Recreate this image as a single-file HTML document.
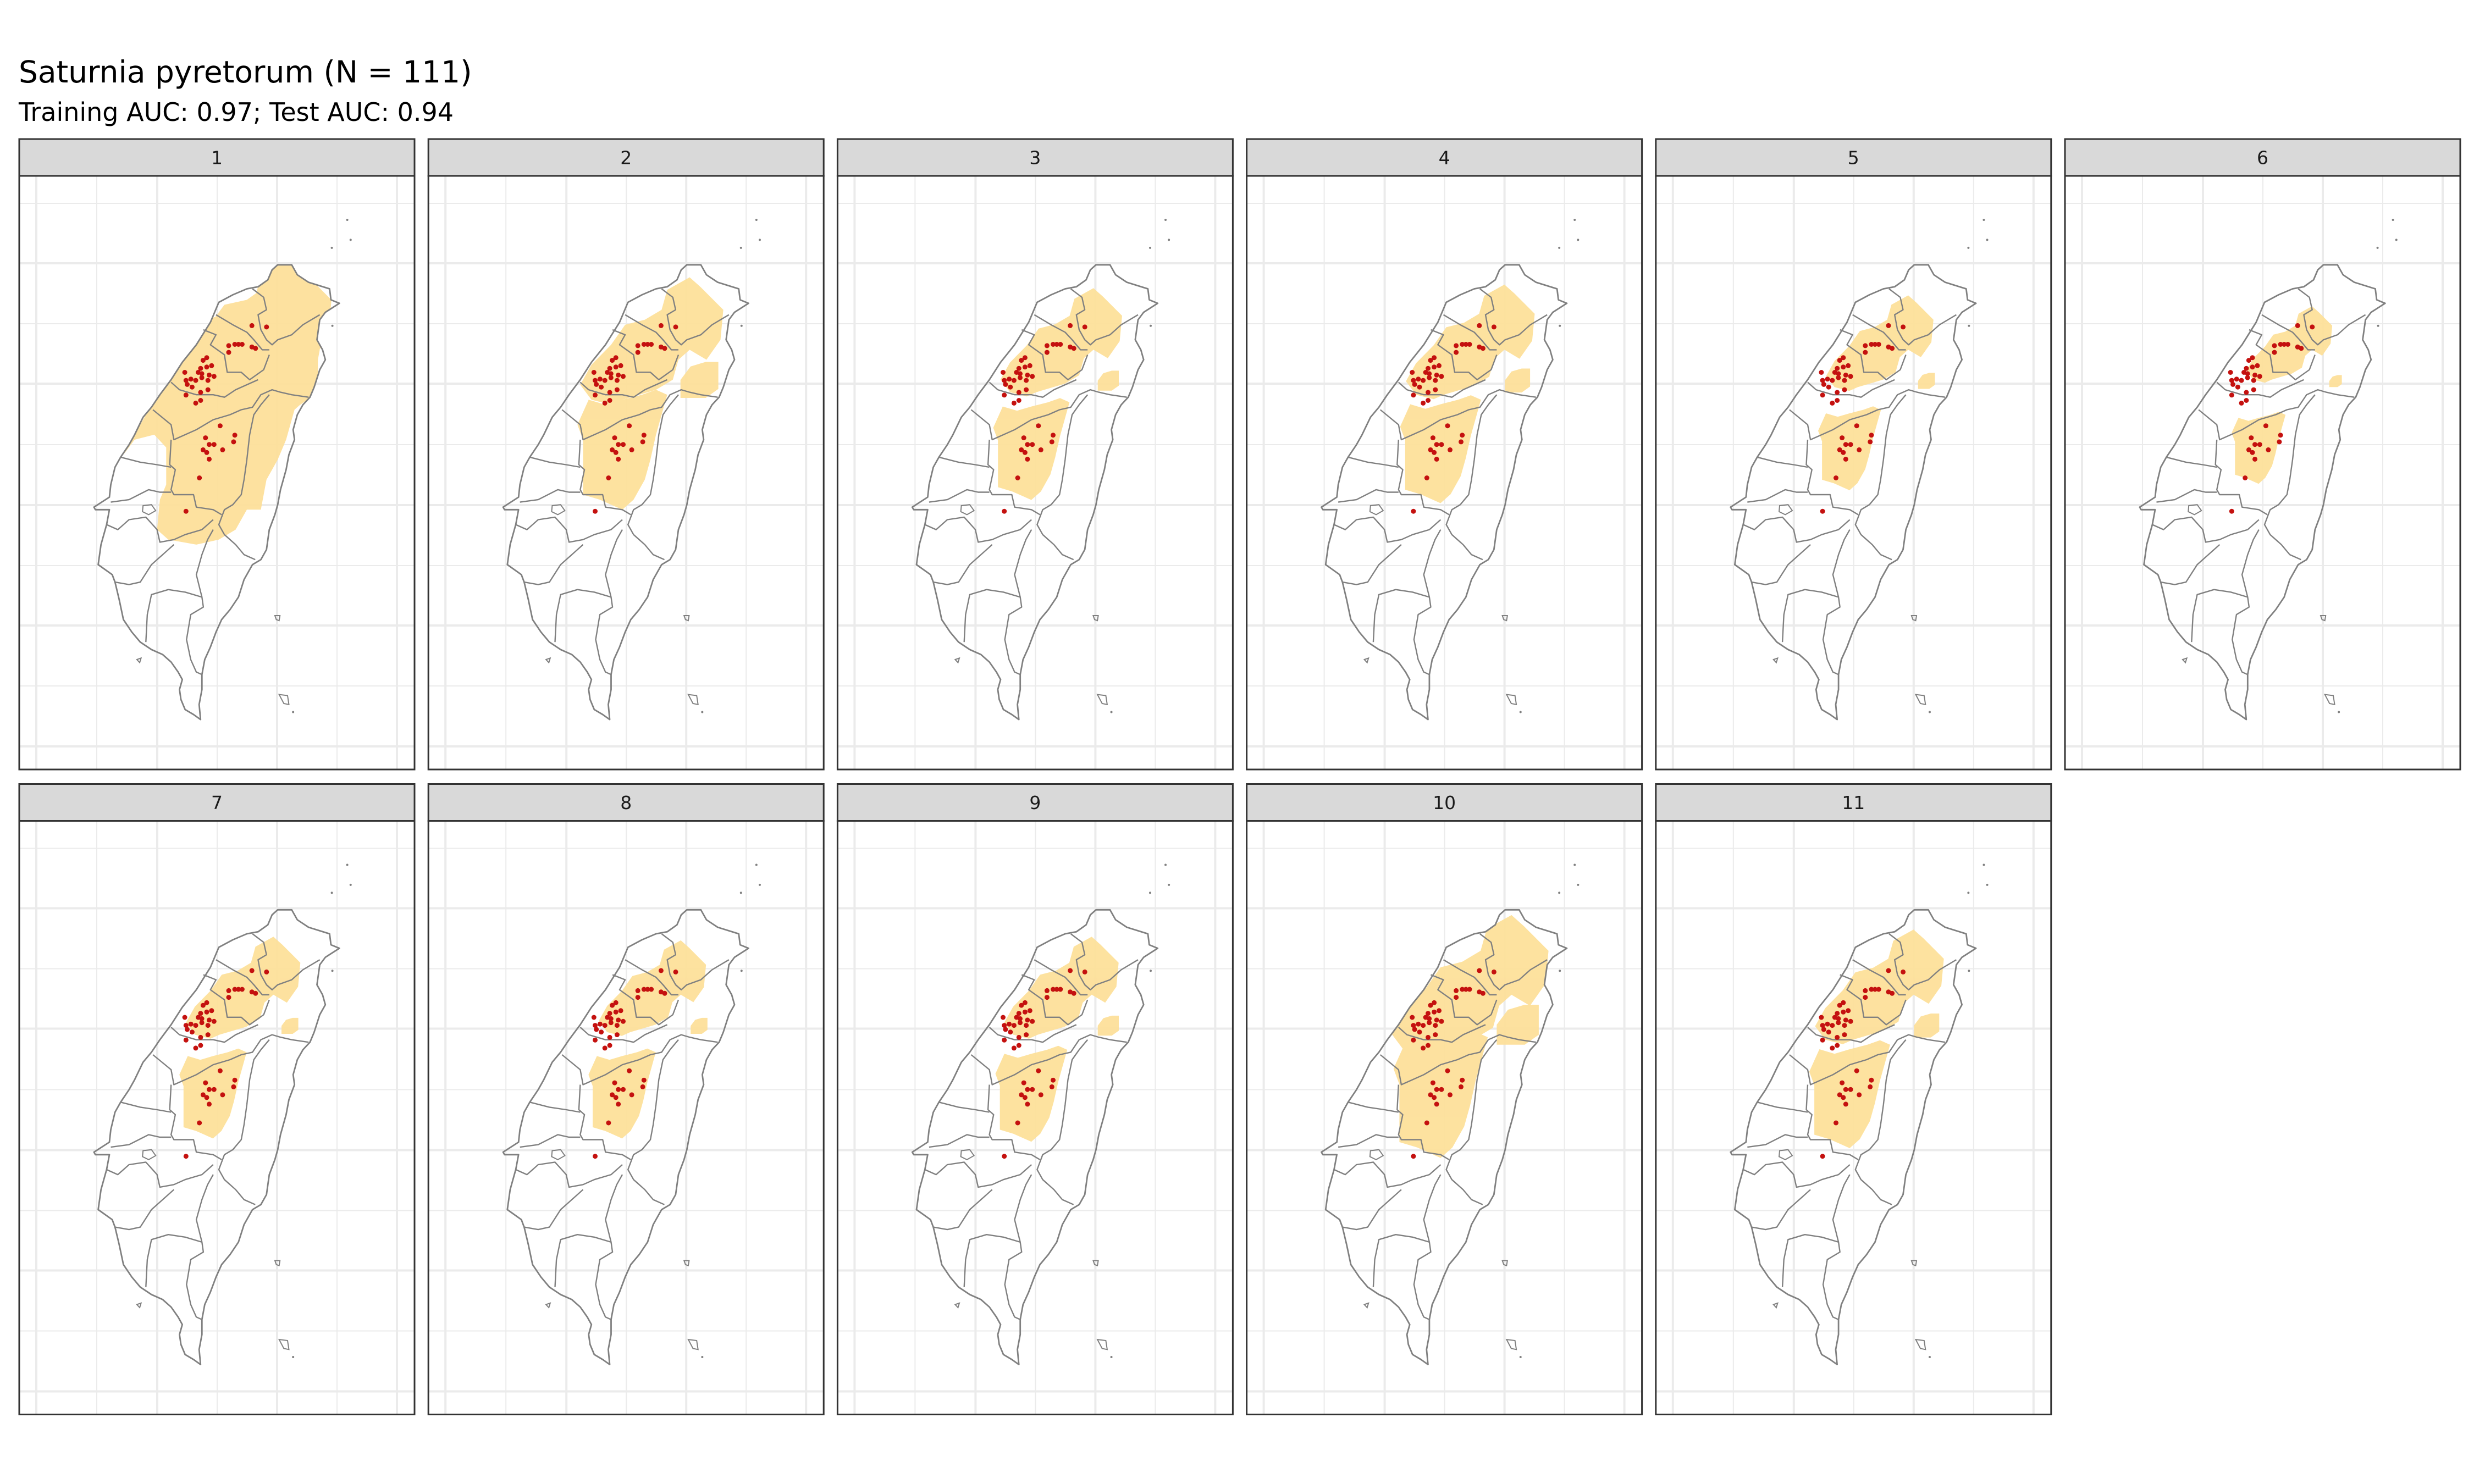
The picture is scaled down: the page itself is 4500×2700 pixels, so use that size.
<!DOCTYPE html>
<html><head><meta charset="utf-8"><title>Saturnia pyretorum</title>
<style>html,body{margin:0;padding:0;background:#fff}svg{display:block}</style></head>
<body>
<svg id="chart" xmlns="http://www.w3.org/2000/svg" width="4500" height="2700" viewBox="0 0 4500 2700">
<rect width="4500" height="2700" fill="#fff"/>
<text x="34" y="150" font-family="DejaVu Sans, Liberation Sans, sans-serif" font-size="55" fill="#000">Saturnia pyretorum (N = 111)</text>
<text x="34" y="220" font-family="DejaVu Sans, Liberation Sans, sans-serif" font-size="46" fill="#000">Training AUC: 0.97; Test AUC: 0.94</text>
<g id="panels"></g>
</svg>
<script>
// ---- data ----
const panelLabels = ["1","2","3","4","5","6","7","8","9","10","11"];
const occLon = [121.28,121.40,121.09,121.14,121.17,121.20,121.09,121.28,121.31,120.88,120.91,120.86,120.91,120.95,120.73,120.84,120.87,120.93,120.97,120.74,120.78,120.82,120.87,120.92,120.75,120.79,120.92,120.74,120.86,120.82,120.86,121.02,121.14,120.90,121.13,120.93,120.97,120.88,120.91,121.04,120.93,120.85,120.74];
const occLat = [24.85,24.84,24.70,24.71,24.71,24.71,24.65,24.69,24.68,24.59,24.61,24.53,24.54,24.55,24.50,24.50,24.49,24.48,24.47,24.44,24.45,24.44,24.46,24.44,24.41,24.39,24.37,24.33,24.35,24.27,24.29,24.10,24.03,24.01,23.98,23.96,23.96,23.92,23.90,23.92,23.85,23.71,23.46];
// suitable-area extent per model (relative size of predicted suitable blobs)
const northExtent   = [1.25,1.0,0.85,0.9,0.75,0.6,0.8,0.75,0.8,1.1,0.9];
const centralExtent = [1.2,1.0,0.85,0.9,0.7,0.6,0.75,0.75,0.8,1.05,0.9];
const eastExtent    = [1.3,0.9,0.5,0.6,0.4,0.3,0.4,0.4,0.5,1.0,0.6];

// ---- basemap (raw digitised outline coords) ----
const coast = [[990,530],[1040,530],[1060,550],[1100,565],[1175,578],[1180,600],[1210,607],[1160,625],[1140,640],[1130,680],[1150,700],[1160,720],[1140,740],[1120,775],[1105,795],[1080,810],[1060,830],[1045,860],[1050,880],[1030,910],[1020,940],[1000,980],[990,1010],[980,1030],[960,1060],[950,1100],[930,1120],[900,1130],[870,1160],[850,1195],[820,1220],[790,1240],[770,1265],[750,1295],[730,1320],[720,1350],[720,1380],[710,1410],[715,1440],[690,1430],[660,1420],[645,1400],[640,1380],[650,1360],[635,1345],[610,1325],[580,1310],[540,1300],[500,1285],[470,1265],[440,1240],[425,1200],[410,1165],[400,1150],[350,1130],[360,1090],[380,1050],[390,1020],[340,1020],[335,1015],[390,995],[395,970],[410,935],[430,915],[460,890],[480,870],[510,835],[540,815],[570,790],[610,760],[650,725],[700,690],[750,645],[780,605],[830,590],[880,578],[920,574],[955,560],[970,540]];
const borders = [
 [[770,630],[830,650],[880,665],[905,680],[935,700],[960,700]],
 [[900,578],[940,595],[950,620],[920,630],[930,660],[950,680],[970,690],[990,680],[1040,670],[1080,650],[1140,630]],
 [[725,660],[770,670],[750,690],[800,710],[810,745],[860,745],[890,760],[940,740],[960,710]],
 [[610,765],[640,780],[700,790],[760,790],[800,795],[840,780],[880,770],[920,760]],
 [[545,820],[610,850],[620,880],[700,860],[760,840],[820,830],[860,820],[900,815],[930,790],[970,780],[1000,785],[1040,790],[1100,795]],
 [[960,790],[930,810],[905,830],[890,870],[880,920],[870,960],[860,990],[830,1010],[800,1020],[780,1050],[800,1070],[840,1090],[870,1110],[910,1120]],
 [[610,880],[605,930],[625,940],[610,980],[620,990],[690,990],[700,1015],[760,1020],[790,1030]],
 [[430,915],[500,925],[560,930],[610,935]],
 [[395,1005],[460,1000],[530,980],[570,985],[610,985]],
 [[380,1050],[420,1060],[460,1040],[520,1035],[560,1060],[570,1085],[620,1080],[660,1070],[720,1060],[760,1040]],
 [[410,1165],[460,1170],[500,1165],[540,1130],[580,1110],[620,1090]],
 [[520,1285],[525,1230],[540,1190],[600,1180],[660,1185],[720,1195],[725,1215],[680,1230],[665,1280],[680,1320],[700,1345],[720,1350]],
 [[720,1195],[700,1150],[720,1110],[740,1080],[760,1060]]
];
const islets = [[[510,1012],[540,1010],[555,1022],[530,1030],[508,1024]],[[980,1232],[998,1232],[995,1242],[985,1240]],[[995,1390],[1025,1392],[1030,1410],[1012,1408]],[[488,1320],[503,1317],[498,1326]]];
const islDots = [[1238,440],[1250,480],[1185,652],[1045,1425],[1183,496]];
const bigSuit = [[960,545],[1010,540],[1060,560],[1140,610],[1140,700],[1120,760],[1090,800],[1050,820],[1020,880],[990,920],[950,960],[930,1020],[880,1020],[840,1060],[780,1080],[700,1090],[600,1080],[560,1060],[570,1000],[600,960],[600,900],[550,870],[480,880],[440,910],[460,890],[520,830],[560,800],[620,750],[660,720],[720,680],[760,640],[800,610],[880,600],[930,580]];
const blobN = [[920,580],[1000,555],[1040,575],[1120,620],[1110,680],[1060,720],[1000,700],[960,720],[940,760],[880,780],[820,790],[760,800],[720,810],[650,800],[610,770],[650,730],[720,690],[770,650],[840,640],[900,620]];
const blobC = [[640,800],[700,810],[760,800],[830,790],[880,780],[920,790],[900,830],[880,870],[860,920],[840,960],[800,1000],[760,1020],[720,1010],[680,1000],[620,990],[620,930],[620,880],[600,850]];
const blobE = [[960,760],[1000,730],[1060,720],[1110,720],[1110,780],[1060,800],[1000,800],[960,800]];

// ---- geometry ----
const NS='http://www.w3.org/2000/svg';
const colStep=744.2, rowStep=1173.5, panelW=719, stripH=67, bodyH=1080;
const mx = zx => zx/1.96 - 35;
const my = zy => zy/1.1 - 320;
const lonX = lon => 361 + (lon-121)*222;
const latY = lat => 965 - (lat-22)*243;
function path(pts, close){return pts.map((p,i)=>(i?'L':'M')+mx(p[0]).toFixed(1)+','+my(p[1]).toFixed(1)).join('')+(close?'Z':'');}
function scaled(pts,s){let cx=0,cy=0;pts.forEach(p=>{cx+=p[0];cy+=p[1]});cx/=pts.length;cy/=pts.length;return pts.map(p=>[cx+(p[0]-cx)*s,cy+(p[1]-cy)*s]);}
function mk(tag,attrs,parent){const e=document.createElementNS(NS,tag);for(const k in attrs)e.setAttribute(k,attrs[k]);parent.appendChild(e);return e;}
const root=document.getElementById('panels');
const defs=mk('defs',{},root);
const landClip=mk('clipPath',{id:'landclip'},defs);
mk('path',{d:path(coast,true)},landClip);
const vLines=[[31,4],[141,2],[251,4],[360,2],[469,4],[578,2],[687,4]];
const hLines=[[50,2],[159,4],[269,2],[378,4],[489,2],[599,4],[709,2],[818,4],[928,2],[1038,4]];

panelLabels.forEach((lab,i)=>{
  const c=i%6, r=Math.floor(i/6);
  const x0=35+c*colStep, y0=253+r*rowStep;
  const g=mk('g',{transform:`translate(${x0.toFixed(1)},${y0})`},root);
  
  
  const strip=mk('rect',{x:0,y:0,width:panelW,height:stripH,fill:'#D9D9D9',stroke:'#333',"stroke-width":3},g);
  
  
  const st=mk('text',{x:panelW/2,y:stripH/2+12,"text-anchor":'middle',"font-family":'DejaVu Sans, Liberation Sans, sans-serif',"font-size":33,fill:'#1A1A1A'},g);
  st.textContent=lab;
  
  
  const cp=mk('clipPath',{id:'cp'+i},defs);
  mk('rect',{x:0,y:0,width:panelW,height:bodyH},cp);
  const body=mk('g',{transform:`translate(0,${stripH})`},g);
  
  
  mk('rect',{x:0,y:0,width:panelW,height:bodyH,fill:'#fff'},body);
  const inner=mk('g',{"clip-path":`url(#cp${i})`},body);
  vLines.forEach(v=>{const l=mk('line',{x1:v[0],x2:v[0],y1:0,y2:bodyH,stroke:'#EBEBEB',"stroke-width":v[1]},inner);});
  hLines.forEach(h=>{const l=mk('line',{x1:0,x2:panelW,y1:h[0],y2:h[0],stroke:'#EBEBEB',"stroke-width":h[1]},inner);});
  const suit=mk('g',{fill:'#FDE09A',opacity:0.95,"clip-path":'url(#landclip)'},inner);
  
  
  if(i===0) mk('path',{d:path(bigSuit,true)},suit);
  mk('path',{d:path(scaled(blobN,northExtent[i]),true)},suit);
  mk('path',{d:path(scaled(blobC,centralExtent[i]),true)},suit);
  mk('path',{d:path(scaled(blobE,eastExtent[i]),true)},suit);
  const land=mk('path',{d:path(coast,true),fill:'none',stroke:'#808080',"stroke-width":2.8,"stroke-linejoin":'round'},inner);
  
  
  borders.forEach(b=>{const l=mk('path',{d:path(b,false),fill:'none',stroke:'#808080',"stroke-width":2.4,"stroke-linejoin":'round'},inner);});
  islets.forEach(b=>{const l=mk('path',{d:path(b,true),fill:'none',stroke:'#808080',"stroke-width":2},inner);});
  islDots.forEach(d=>{const l=mk('circle',{cx:mx(d[0]),cy:my(d[1]),r:2,fill:'#808080'},inner);});
  const pts=mk('g',{fill:'#C4110F'},inner);
  
  
  occLon.forEach((lon,k)=>{
    const d=mk('circle',{cx:lonX(lon).toFixed(1),cy:latY(occLat[k]).toFixed(1),r:4.5},pts);
    
    
  });
  const fr=mk('rect',{x:0,y:0,width:panelW,height:bodyH,fill:'none',stroke:'#333',"stroke-width":3},body);
  
  
});
</script>
</body></html>
